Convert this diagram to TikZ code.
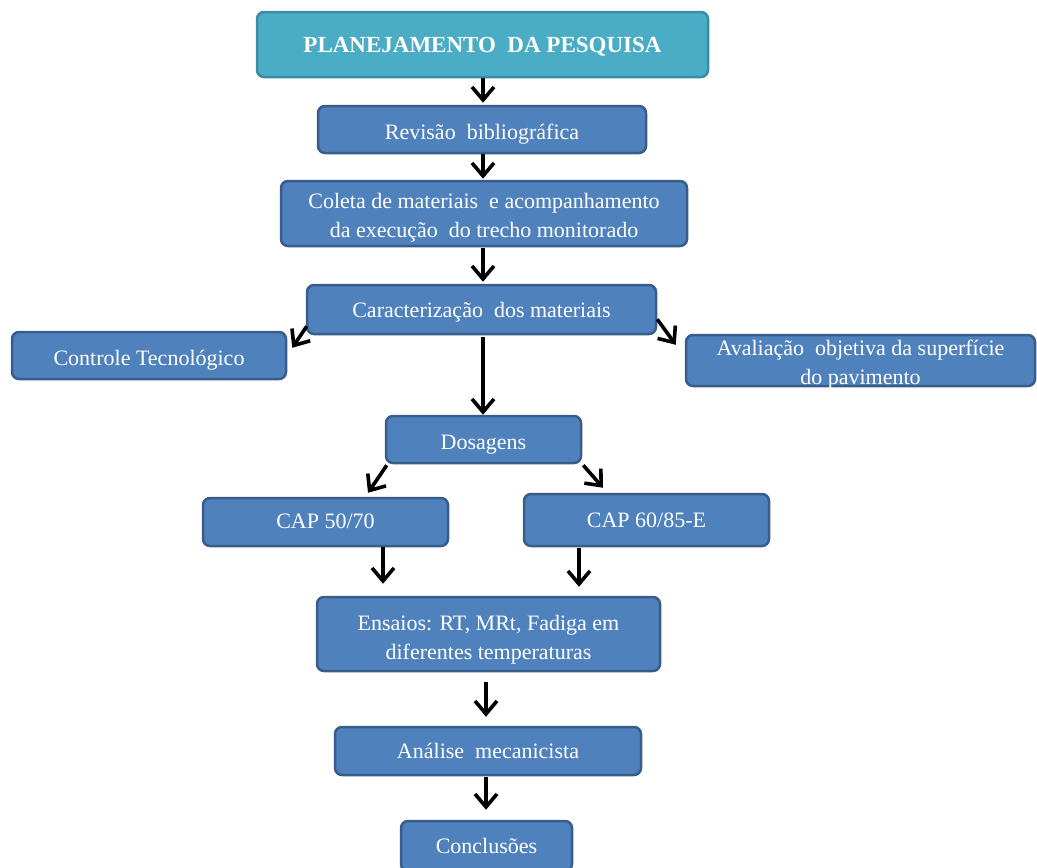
\documentclass[tikz,border=0pt]{standalone}
\usepackage{fontspec}
\setmainfont{Liberation Serif}
\usetikzlibrary{arrows.meta}
\definecolor{boxfill}{HTML}{4F81BD}
\definecolor{boxline}{HTML}{385D8A}
\definecolor{topfill}{HTML}{4BACC6}
\definecolor{topline}{HTML}{3A8CA3}
\newcommand{\dn}[2]{\raisebox{-#1pt}[\height][\depth]{\begin{tabular}{@{}c@{}}#2\end{tabular}}}
\newcommand{\dnz}[2]{\raisebox{-#1pt}[0pt][0pt]{\begin{tabular}{@{}c@{}}#2\end{tabular}}}
\tikzset{
  stepbox/.style={draw=boxline, fill=boxfill, line width=2.5pt, rounded corners=7pt,
    text=white, align=center, inner sep=2pt, font=\fontsize{22}{29}\selectfont},
  topbox/.style={stepbox, draw=topline, fill=topfill, font=\fontsize{23}{26}\selectfont\bfseries},
  arr/.style={line width=3.6pt, -{Straight Barb[length=13pt,width=22pt]}},
}
\begin{document}
\begin{tikzpicture}[x=1pt,y=-1pt]
\useasboundingbox (0,0) rectangle (1037,868);
\node[topbox, minimum width=451pt, minimum height=65pt] (plan) at (482.5,44.5) {\dn{3}{PLANEJAMENTO\ \ DA PESQUISA}};
\node[stepbox, minimum width=328pt, minimum height=47pt] (rev) at (482,129.5) {\dn{4}{Revisão\ \ bibliográfica}};
\node[stepbox, minimum width=406pt, minimum height=65pt] (col) at (484,213.5) {\dn{4}{Coleta de materiais\ \ e acompanhamento\\da execução\ \ do trecho monitorado}};
\node[stepbox, minimum width=349pt, minimum height=49pt] (car) at (481.5,309.5) {\dn{2}{Caracterização\ \ dos materiais}};
\node[stepbox, minimum width=274pt, minimum height=47pt] (ctl) at (149,355.5) {\dn{4}{Controle Tecnológico}};
\node[stepbox, minimum width=349pt, minimum height=51pt] (ava) at (860.5,360.5) {\dnz{8.5}{Avaliação\ \ objetiva da superfície\\do pavimento}};
\node[stepbox, minimum width=195pt, minimum height=47pt] (dos) at (483.5,439.5) {\dn{4}{Dosagens}};
\node[stepbox, minimum width=245pt, minimum height=48pt] (c50) at (325.5,522) {\dn{1}{CAP 50/70}};
\node[stepbox, minimum width=245pt, minimum height=52pt] (c60) at (646.5,520) {\dn{2}{CAP 60/85-E}};
\node[stepbox, minimum width=343pt, minimum height=74pt] (ens) at (488.5,634) {\dn{5}{Ensaios: RT, MRt, Fadiga em\\diferentes temperaturas}};
\node[stepbox, minimum width=306pt, minimum height=48pt] (ana) at (488,751) {\dn{2}{Análise\ \ mecanicista}};
\node[stepbox, minimum width=171pt, minimum height=50pt] (con) at (486.5,846) {\dn{2}{Conclusões}};

\coordinate (a1) at ([xshift=0.5pt]plan.south);
\draw[arr] (a1) -- ([yshift=2pt]a1 |- rev.north);
\coordinate (a2) at ([xshift=1pt]rev.south);
\draw[arr] (a2) -- ([yshift=1pt]a2 |- col.north);
\coordinate (a3) at ([xshift=-1pt,yshift=-1pt]col.south);
\draw[arr] (a3) -- ([yshift=2pt]a3 |- car.north);
\coordinate (a4) at ([xshift=1.5pt,yshift=-2pt]car.south);
\draw[arr] (a4) -- (a4 |- dos.north);
\coordinate (cl1) at ([xshift=1pt,yshift=9pt]car.south west);
\coordinate (cl2) at ([xshift=5pt,yshift=-17pt]ctl.north east);
\draw[arr] (cl1) -- (cl2);
\coordinate (cr1) at ([xshift=0pt,yshift=16pt]car.south east);
\coordinate (cr2) at ([xshift=-9pt,yshift=-11pt]ava.north west);
\draw[arr] (cr1) -- (cr2);
\coordinate (d1) at ([xshift=2pt,yshift=-1pt]dos.south west);
\coordinate (d2) at ([xshift=42.5pt,yshift=4pt]c50.north);
\draw[arr] (d1) -- (d2);
\coordinate (d3) at ([xshift=1pt,yshift=-1pt]dos.south east);
\coordinate (d4) at ([xshift=-43.5pt,yshift=5pt]c60.north);
\draw[arr] (d3) -- (d4);
\coordinate (e1) at ([xshift=57.5pt]c50.south);
\draw[arr] (e1) -- ([yshift=12pt]e1 |- ens.north);
\coordinate (e2) at ([xshift=-67.5pt,yshift=-1pt]c60.south);
\draw[arr] (e2) -- ([yshift=9pt]e2 |- ens.north);
\coordinate (f1) at ([xshift=-2.5pt,yshift=-10pt]ens.south);
\draw[arr] (f1) -- ([yshift=9pt]f1 |- ana.north);
\coordinate (g1) at ([xshift=-2pt,yshift=-1pt]ana.south);
\draw[arr] (g1) -- ([yshift=10pt]g1 |- con.north);
\end{tikzpicture}
\end{document}
